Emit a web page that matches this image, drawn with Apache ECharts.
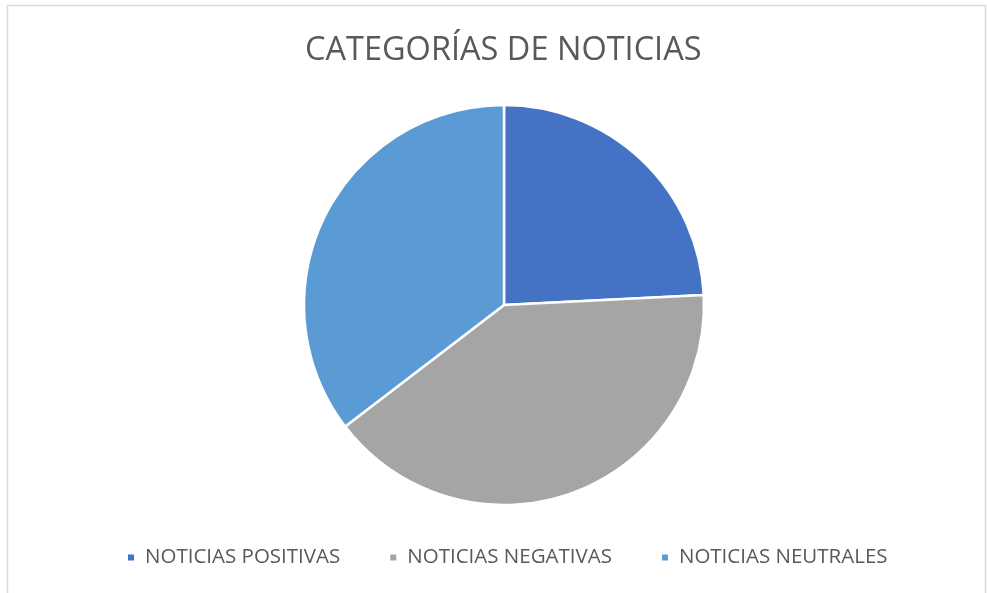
<!DOCTYPE html>
<html>
<head>
<meta charset="utf-8">
<script src="https://cdn.jsdelivr.net/npm/echarts@6/dist/echarts.min.js"></script>
<style>
  html, body { margin: 0; padding: 0; background: #fff; }
  #chart { width: 987px; height: 593px; }
</style>
</head>
<body>
<div id="chart"></div>
<script>
// datos
const categorias = ['NOTICIAS POSITIVAS', 'NOTICIAS NEGATIVAS', 'NOTICIAS NEUTRALES'];
const valores = [24.2, 40.4, 35.4];
const colores = ['#4472C4', '#A5A5A5', '#5B9BD5'];

const chart = echarts.init(document.getElementById('chart'));

chart.setOption({
    animation: false,
    color: colores,
    title: {
        text: 'CATEGORÍAS DE NOTICIAS',
        left: 300,
        top: 29,
        textStyle: {
            fontFamily: 'Open Sans',
            fontSize: 32.5,
            fontWeight: 'normal',
            color: '#595959'
        }
    },
    legend: {
        bottom: 20,
        left: 121,
        itemWidth: 8,
        itemHeight: 8,
        itemGap: 48,
        icon: 'rect',
        textStyle: {
            fontFamily: 'Open Sans',
            fontSize: 20.5,
            color: '#595959',
            padding: [0, 0, 0, 5]
        }
    },
    graphic: [{
        type: 'rect',
        shape: { x: 7.5, y: 5.5, width: 978, height: 600 },
        style: { fill: 'none', stroke: '#d9d9d9', lineWidth: 1.5 },
        silent: true
    }],
    series: [{
        type: 'pie',
        center: [504, 305],
        radius: 200,
        startAngle: 90,
        clockwise: true,
        label: { show: false },
        labelLine: { show: false },
        itemStyle: { borderColor: '#fff', borderWidth: 2.5 },
        emphasis: { disabled: true },
        data: categorias.map((name, i) => ({ name: name, value: valores[i] }))
    }]
});
</script>
</body>
</html>
